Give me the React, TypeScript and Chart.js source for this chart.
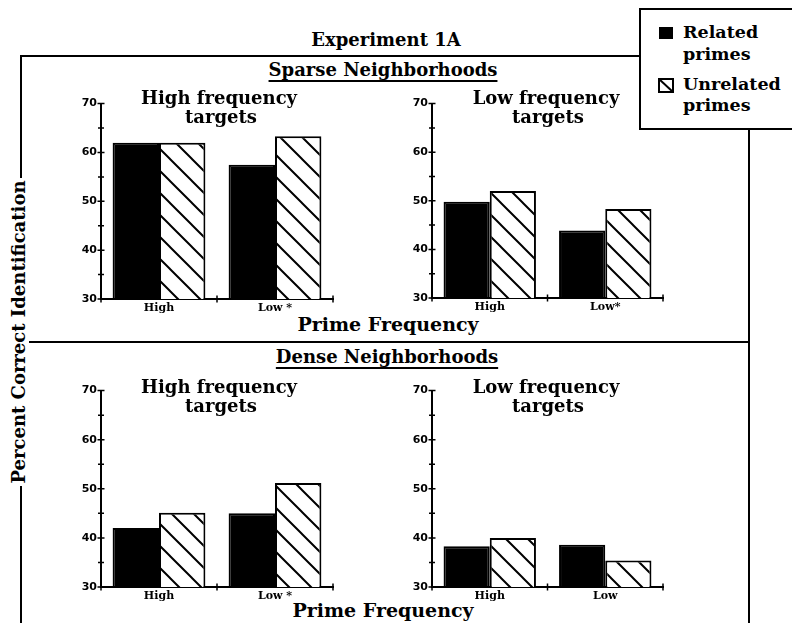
import React, { useEffect, useRef } from 'react';
import { Chart, registerables } from 'chart.js';

Chart.register(...registerables);

// ---- data ----
const primeFreqSparseHF = ['High', 'Low *'];
const primeFreqSparseLF = ['High', 'Low*'];
const primeFreqDenseHF = ['High', 'Low *'];
const primeFreqDenseLF = ['High', 'Low'];

const sparseHFRelated = [62, 57.5];
const sparseHFUnrelated = [62, 63.3];
const sparseLFRelated = [49.8, 43.9];
const sparseLFUnrelated = [52, 48.3];
const denseHFRelated = [42, 45];
const denseHFUnrelated = [45.1, 51.2];
const denseLFRelated = [38.3, 38.6];
const denseLFUnrelated = [40, 35.4];

const yMin = 30;
const yMax = 70;
const yMinorStep = 5;
const yLabelStep = 10;

const SERIF = "'DejaVu Serif', serif";
const SANS = "'DejaVu Sans', sans-serif";

const YW = 41;
const XH = 22;
const PT = 10;
const PR = 10;

function makeHatch(): CanvasPattern | string {
  const s = 22;
  const c = document.createElement('canvas');
  c.width = s;
  c.height = s;
  const g = c.getContext('2d');
  if (!g) return '#fff';
  g.fillStyle = '#fff';
  g.fillRect(0, 0, s, s);
  g.strokeStyle = '#000';
  g.lineWidth = 2;
  g.beginPath();
  g.moveTo(-2, -2);
  g.lineTo(s + 2, s + 2);
  g.moveTo(-2, s - 2);
  g.lineTo(2, s + 2);
  g.moveTo(s - 2, -2);
  g.lineTo(s + 2, 2);
  g.stroke();
  const p = g.createPattern(c, 'repeat');
  return p || '#fff';
}

const axisTicks = {
  id: 'axisTicks',
  afterDraw(chart: any) {
    const { ctx } = chart;
    const x = chart.scales.x;
    const y = chart.scales.y;
    ctx.save();
    ctx.strokeStyle = '#000';
    ctx.lineWidth = 1.5;
    ctx.beginPath();
    for (let v = yMin; v <= yMax; v += yMinorStep) {
      const py = y.getPixelForValue(v);
      const len = v % yLabelStep === 0 ? 3.5 : 3;
      ctx.moveTo(x.left - len, py);
      ctx.lineTo(x.left + len, py);
    }
    const n = chart.data.labels.length;
    for (let i = -0.5; i <= n - 0.5; i += 1) {
      const px = x.getPixelForValue(i);
      ctx.moveTo(px, y.bottom - 3.5);
      ctx.lineTo(px, y.bottom + 3.5);
    }
    ctx.stroke();
    ctx.restore();
  },
};

type PanelProps = {
  labels: string[];
  related: number[];
  unrelated: number[];
  ax: number;
  ay: number;
  aw: number;
  ah: number;
};

function Panel({ labels, related, unrelated, ax, ay, aw, ah }: PanelProps) {
  const ref = useRef<HTMLCanvasElement>(null);
  const w = aw + YW + PR;
  const h = ah + PT + XH;
  useEffect(() => {
    if (!ref.current) return;
    const hatch = makeHatch();
    const chart = new Chart(ref.current, {
      type: 'bar',
      data: {
        labels,
        datasets: [
          {
            label: 'Related primes',
            data: related,
            backgroundColor: '#000',
            borderColor: '#000',
            borderWidth: 2,
            categoryPercentage: 0.8,
            barPercentage: 1,
          },
          {
            label: 'Unrelated primes',
            data: unrelated,
            backgroundColor: hatch as any,
            borderColor: '#000',
            borderWidth: 2,
            categoryPercentage: 0.8,
            barPercentage: 1,
          },
        ],
      },
      options: {
        responsive: false,
        animation: false,
        devicePixelRatio: 1,
        layout: { padding: { left: 0, top: PT, right: PR, bottom: 0 } },
        plugins: { legend: { display: false }, tooltip: { enabled: false }, title: { display: false } },
        scales: {
          x: {
            grid: { display: false, drawTicks: false, tickLength: 0 },
            border: { display: true, color: '#000', width: 2 },
            ticks: {
              color: '#000',
              padding: 3,
              maxRotation: 0,
              font: { family: SERIF, size: 11, weight: 'bold' },
            },
            afterFit: (s: any) => {
              s.height = XH;
            },
          },
          y: {
            min: yMin,
            max: yMax,
            grid: { display: false, drawTicks: false, tickLength: 0 },
            border: { display: true, color: '#000', width: 2 },
            ticks: {
              stepSize: yMinorStep,
              color: '#000',
              padding: 4,
              font: { family: SANS, size: 11, weight: 'bold' },
              callback: (v: any) => (Number(v) % yLabelStep === 0 ? String(v) : ''),
            },
            afterFit: (s: any) => {
              s.width = YW;
            },
          },
        },
      } as any,
      plugins: [axisTicks],
    });
    return () => chart.destroy();
  }, []);
  return (
    <canvas
      ref={ref}
      width={w}
      height={h}
      style={{ position: 'absolute', left: ax - YW, top: ay - PT, width: w, height: h }}
    />
  );
}

function T({ x, y, size, children, underline, anchor }: any) {
  return (
    <div
      style={{
        position: 'absolute',
        left: x,
        top: y,
        transform: anchor === 'left' ? 'translate(0,-50%)' : 'translate(-50%,-50%)',
        fontFamily: SERIF,
        fontWeight: 'bold',
        fontSize: size,
        lineHeight: 1,
        whiteSpace: 'nowrap',
        color: '#000',
        textDecoration: underline ? 'underline' : 'none',
        textDecorationThickness: underline ? '2px' : undefined,
        textUnderlineOffset: underline ? '4px' : undefined,
        textAlign: 'center',
      }}
    >
      {children}
    </div>
  );
}

function Line({ x, y, w, h }: any) {
  return <div style={{ position: 'absolute', left: x, top: y, width: w, height: h, background: '#000' }} />;
}

export default function App() {
  return (
    <div
      style={{
        position: 'absolute',
        left: 0,
        top: 0,
        width: 792,
        height: 623,
        overflow: 'hidden',
        background: '#fff',
      }}
    >
      {/* frame */}
      <Line x={20} y={55} w={620} h={2} />
      <Line x={20} y={55} w={2} h={123} />
      <Line x={20} y={486} w={2} h={137} />
      <Line x={29} y={341} w={720} h={2} />
      <Line x={748} y={128} w={2} h={495} />
      {/* legend */}
      <div
        style={{
          position: 'absolute',
          left: 639,
          top: 8,
          width: 170,
          height: 118,
          border: '2px solid #000',
          background: '#fff',
        }}
      />
      <div style={{ position: 'absolute', left: 659, top: 27, width: 14, height: 12, background: '#000' }} />
      <svg style={{ position: 'absolute', left: 658, top: 78 }} width={16} height={15}>
        <rect x={1} y={1} width={14} height={13} fill="#fff" stroke="#000" strokeWidth={2} />
        <line x1={1} y1={1} x2={15} y2={14} stroke="#000" strokeWidth={2} />
      </svg>
      <T x={683} y={33} size={17.5} anchor="left">Related</T>
      <T x={683} y={55} size={17.5} anchor="left">primes</T>
      <T x={683} y={85} size={17.5} anchor="left">Unrelated</T>
      <T x={683} y={106} size={17.5} anchor="left">primes</T>

      <T x={386} y={40} size={18}>Experiment 1A</T>
      <T x={383} y={70} size={18} underline>Sparse Neighborhoods</T>
      <T x={387} y={357} size={18} underline>Dense Neighborhoods</T>
      <T x={388} y={324} size={19}>Prime Frequency</T>
      <T x={383} y={610} size={19}>Prime Frequency</T>

      <div
        style={{
          position: 'absolute',
          left: 19,
          top: 332,
          transform: 'translate(-50%,-50%) rotate(-90deg)',
          fontFamily: SERIF,
          fontWeight: 'bold',
          fontSize: 18,
          lineHeight: 1,
          whiteSpace: 'nowrap',
        }}
      >
        Percent Correct Identification
      </div>

      <Panel labels={primeFreqSparseHF} related={sparseHFRelated} unrelated={sparseHFUnrelated} ax={101} ay={103} aw={232} ah={196} />
      <Panel labels={primeFreqSparseLF} related={sparseLFRelated} unrelated={sparseLFUnrelated} ax={432} ay={103} aw={231} ah={195} />
      <Panel labels={primeFreqDenseHF} related={denseHFRelated} unrelated={denseHFUnrelated} ax={101} ay={390} aw={232} ah={197} />
      <Panel labels={primeFreqDenseLF} related={denseLFRelated} unrelated={denseLFUnrelated} ax={432} ay={390} aw={231} ah={197} />

      <T x={219} y={98} size={18}>High frequency</T>
      <T x={221} y={117} size={18}>targets</T>
      <T x={546} y={98} size={18}>Low frequency</T>
      <T x={548} y={117} size={18}>targets</T>
      <T x={219} y={387} size={18}>High frequency</T>
      <T x={221} y={406} size={18}>targets</T>
      <T x={546} y={387} size={18}>Low frequency</T>
      <T x={548} y={406} size={18}>targets</T>
    </div>
  );
}
